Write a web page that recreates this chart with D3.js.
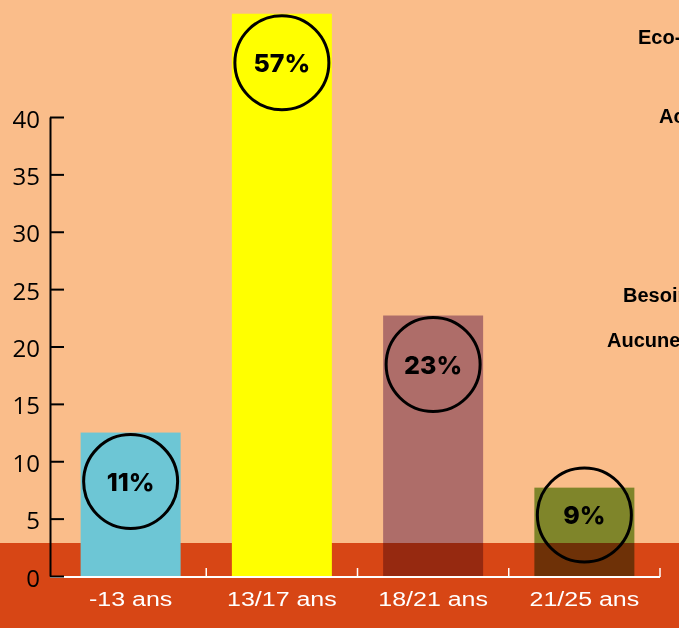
<!DOCTYPE html>
<html>
<head>
<meta charset="utf-8">
<script src="https://cdn.jsdelivr.net/npm/d3@7"></script>
<style>
  body { margin: 0; background: #fabd8a; }
  svg { display: block; }
</style>
</head>
<body>
<script>
// donnees
var categories = ["-13 ans", "13/17 ans", "18/21 ans", "21/25 ans"];
var valeurs = [12.5, 49, 22.7, 7.7];
var pourcents = ["11%", "57%", "23%", "9%"];
var yTicks = [0, 5, 10, 15, 20, 25, 30, 35, 40];
// libelles coupes a droite (legende d'un autre graphique)
var legende = ["Eco-", "Ac", "Besoin", "Aucune"];

var couleurs = ["#6dc6d5", "#ffff00", "#b293c2", "#82b34d"];
var melange = ["normal", "normal", "multiply", "multiply"];
var legendePos = [[638, 44], [659, 123], [623, 302], [607, 347]];

var width = 679, height = 628;

var svg = d3.select("body").append("svg")
  .attr("width", width)
  .attr("height", height);

// fond clair
svg.append("rect").attr("width", width).attr("height", height).attr("fill", "#fabd8a");
// bande foncee du bas
svg.append("rect").attr("x", 0).attr("y", 543).attr("width", width).attr("height", height - 543)
  .attr("fill", "#d74615");

var x = d3.scaleBand().domain(categories).range([55, 660]).padding(0);
var y = d3.scaleLinear().domain([0, 40]).range([576, 117]);
var barW = 100;

// barres
svg.selectAll(".barre").data(valeurs).enter().append("rect")
  .attr("class", "barre")
  .attr("x", function(d, i) { return x(categories[i]) + (x.bandwidth() - barW) / 2; })
  .attr("y", function(d) { return y(d); })
  .attr("width", barW)
  .attr("height", function(d) { return y(0) - y(d); })
  .attr("fill", function(d, i) { return couleurs[i]; })
  .style("mix-blend-mode", function(d, i) { return melange[i]; });

// axe x blanc
var gx = svg.append("g").attr("transform", "translate(0,577)");
gx.append("line").attr("x1", 50).attr("x2", 660).attr("y1", 0).attr("y2", 0)
  .attr("stroke", "#fff").attr("stroke-width", 2);
gx.selectAll(".tk").data(categories).enter().append("line")
  .attr("x1", function(d) { return x(d) + x.step(); })
  .attr("x2", function(d) { return x(d) + x.step(); })
  .attr("y1", 0).attr("y2", -9)
  .attr("stroke", "#fff").attr("stroke-width", 1.5);
gx.selectAll(".lab").data(categories).enter().append("text")
  .attr("transform", function(d) { return "translate(" + (x(d) + x.bandwidth() / 2) + ",29) scale(1.25,1)"; })
  .attr("text-anchor", "middle")
  .attr("fill", "#fff")
  .style("font-family", "'Liberation Sans', Arial, sans-serif")
  .style("font-size", "20px")
  .text(function(d) { return d; });

// axe y noir, graduations vers l'interieur
var gy = svg.append("g").attr("transform", "translate(50,0)")
  .call(d3.axisLeft(y).tickValues(yTicks).tickSizeInner(-14).tickSizeOuter(0).tickPadding(10));
gy.selectAll("path, line").attr("stroke", "#000").attr("stroke-width", 2);
gy.selectAll("text")
  .attr("fill", "#000")
  .attr("dy", "0.42em")
  .style("font-family", "'Open Sans', sans-serif")
  .style("font-size", "24px");

// cercles avec pourcentages
var bulles = svg.selectAll(".bulle").data(valeurs).enter().append("g")
  .attr("transform", function(d, i) {
    var cx = x(categories[i]) + x.bandwidth() / 2;
    var cy = Math.min(y(d) + 49, y(0) - 61);
    return "translate(" + cx + "," + cy + ")";
  });
bulles.append("circle").attr("r", 47)
  .attr("fill", "none").attr("stroke", "#000").attr("stroke-width", 3);
bulles.append("text")
  .attr("text-anchor", "middle")
  .attr("dy", "0.36em")
  .style("font-family", "Inter, sans-serif")
  .style("font-weight", "800")
  .style("font-size", "25px")
  .text(function(d, i) { return pourcents[i]; });

// textes de legende coupes
svg.selectAll(".leg").data(legende).enter().append("text")
  .attr("x", function(d, i) { return legendePos[i][0]; })
  .attr("y", function(d, i) { return legendePos[i][1]; })
  .style("font-family", "'Liberation Sans', Arial, sans-serif")
  .style("font-weight", "bold")
  .style("font-size", "20px")
  .text(function(d) { return d; });
</script>
</body>
</html>
